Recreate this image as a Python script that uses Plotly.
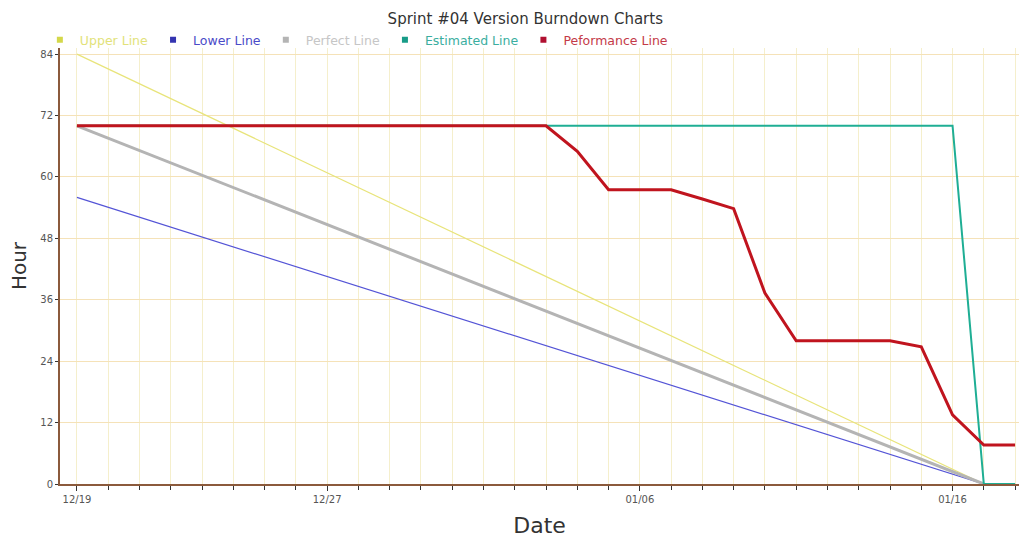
import pandas as pd
import plotly.graph_objects as go

# ---- data ----
dates = pd.date_range("2011-12-19", "2012-01-18", freq="D")
performance = [70, 70, 70, 70, 70, 70, 70, 70, 70, 70, 70, 70, 70, 70, 70, 70,
               65, 57.5, 57.5, 57.5, 55.7, 53.8, 37.3, 28, 28, 28, 28, 26.8, 13.5, 7.6, 7.6]
upper_dates = ["2011-12-19", "2012-01-17"]
upper_vals = [84, 0]
lower_dates = ["2011-12-19", "2012-01-17"]
lower_vals = [56, 0]
perfect_dates = ["2011-12-19", "2012-01-17"]
perfect_vals = [70, 0]
est_dates = ["2011-12-19", "2012-01-16", "2012-01-17", "2012-01-18"]
est_vals = [70, 70, 0, 0]
x_tickvals = ["2011-12-19", "2011-12-27", "2012-01-06", "2012-01-16"]
x_ticktext = ["12/19", "12/27", "01/06", "01/16"]
y_tickvals = [0, 12, 24, 36, 48, 60, 72, 84]

series = [
    ("Upper Line", upper_dates, upper_vals, "#e8e47a", 1.2),
    ("Lower Line", lower_dates, lower_vals, "#5454d6", 1.2),
    ("Perfect Line", perfect_dates, perfect_vals, "#b4b4b4", 3),
    ("Estimated Line", est_dates, est_vals, "#1fae94", 2),
    ("Peformance Line", list(dates), performance, "#c0141e", 3),
]
legend_marker = {"Upper Line": "#d4d84a", "Lower Line": "#3434b0", "Perfect Line": "#b4b4b4",
                 "Estimated Line": "#189c88", "Peformance Line": "#b01030"}
legend_text = {"Upper Line": "#e2e27a", "Lower Line": "#4a4ac8", "Perfect Line": "#c6c6c6",
               "Estimated Line": "#3aaea0", "Peformance Line": "#c43a48"}

fig = go.Figure()
for name, xs, ys, color, w in series:
    fig.add_trace(go.Scatter(x=xs, y=ys, mode="lines", name=name, showlegend=False,
                             cliponaxis=False,
                             line=dict(color=color, width=w), hoverinfo="x+y+name"))
for name, xs, ys, color, w in series:
    fig.add_trace(go.Scatter(x=[None], y=[None], mode="markers",
                             name=f"<span style='color:{legend_text[name]}'>{name}</span>",
                             marker=dict(symbol="square", size=6, color=legend_marker[name])))

fig.update_layout(
    width=1022, height=538,
    margin=dict(l=60, r=3, t=48, b=54, autoexpand=False),
    paper_bgcolor="white", plot_bgcolor="white",
    font=dict(family="DejaVu Sans", size=11, color="#555555"),
    title=dict(text="Sprint #04 Version Burndown Charts", x=0.514, xanchor="center",
               y=0.966, yanchor="middle", font=dict(size=15, color="#333333")),
    legend=dict(orientation="h", x=-0.021, xanchor="left", y=1.018, yanchor="middle",
                font=dict(size=12.5), itemwidth=30, bgcolor="rgba(0,0,0,0)"),
    showlegend=True,
)

fig.update_xaxes(
    type="date", automargin=False, layer="below traces",
    range=["2011-12-18 11:00", "2012-01-18 03:00"],
    tickmode="array", tickvals=x_tickvals, ticktext=x_ticktext,
    ticks="outside", ticklen=5, tickcolor="#333333",
    tickfont=dict(size=10, color="#555555"),
    showline=True, linecolor="#8b5a3c", linewidth=2,
    showgrid=True, gridcolor="#f5efcc", gridwidth=1,
    minor=dict(tickmode="linear", tick0="2011-12-19", dtick=86400000,
               ticks="outside", ticklen=4, tickcolor="#333333",
               showgrid=True, gridcolor="#f5efcc"),
    zeroline=False,
    title=dict(text="Date", font=dict(size=22, color="#333333"), standoff=14),
)
fig.update_yaxes(
    range=[0, 85.2], automargin=False, layer="below traces",
    tickmode="array", tickvals=y_tickvals,
    ticks="outside", ticklen=3, tickcolor="#333333",
    tickfont=dict(size=10, color="#555555"),
    showline=True, linecolor="#8b5a3c", linewidth=2,
    showgrid=True, gridcolor="#f5e2b8", gridwidth=1,
    zeroline=False,
    title=dict(text="Hour", font=dict(size=20, color="#333333"), standoff=8),
)

fig.write_html("out.html", config={"displayModeBar": False},
               post_script="document.body.style.margin='0';")
